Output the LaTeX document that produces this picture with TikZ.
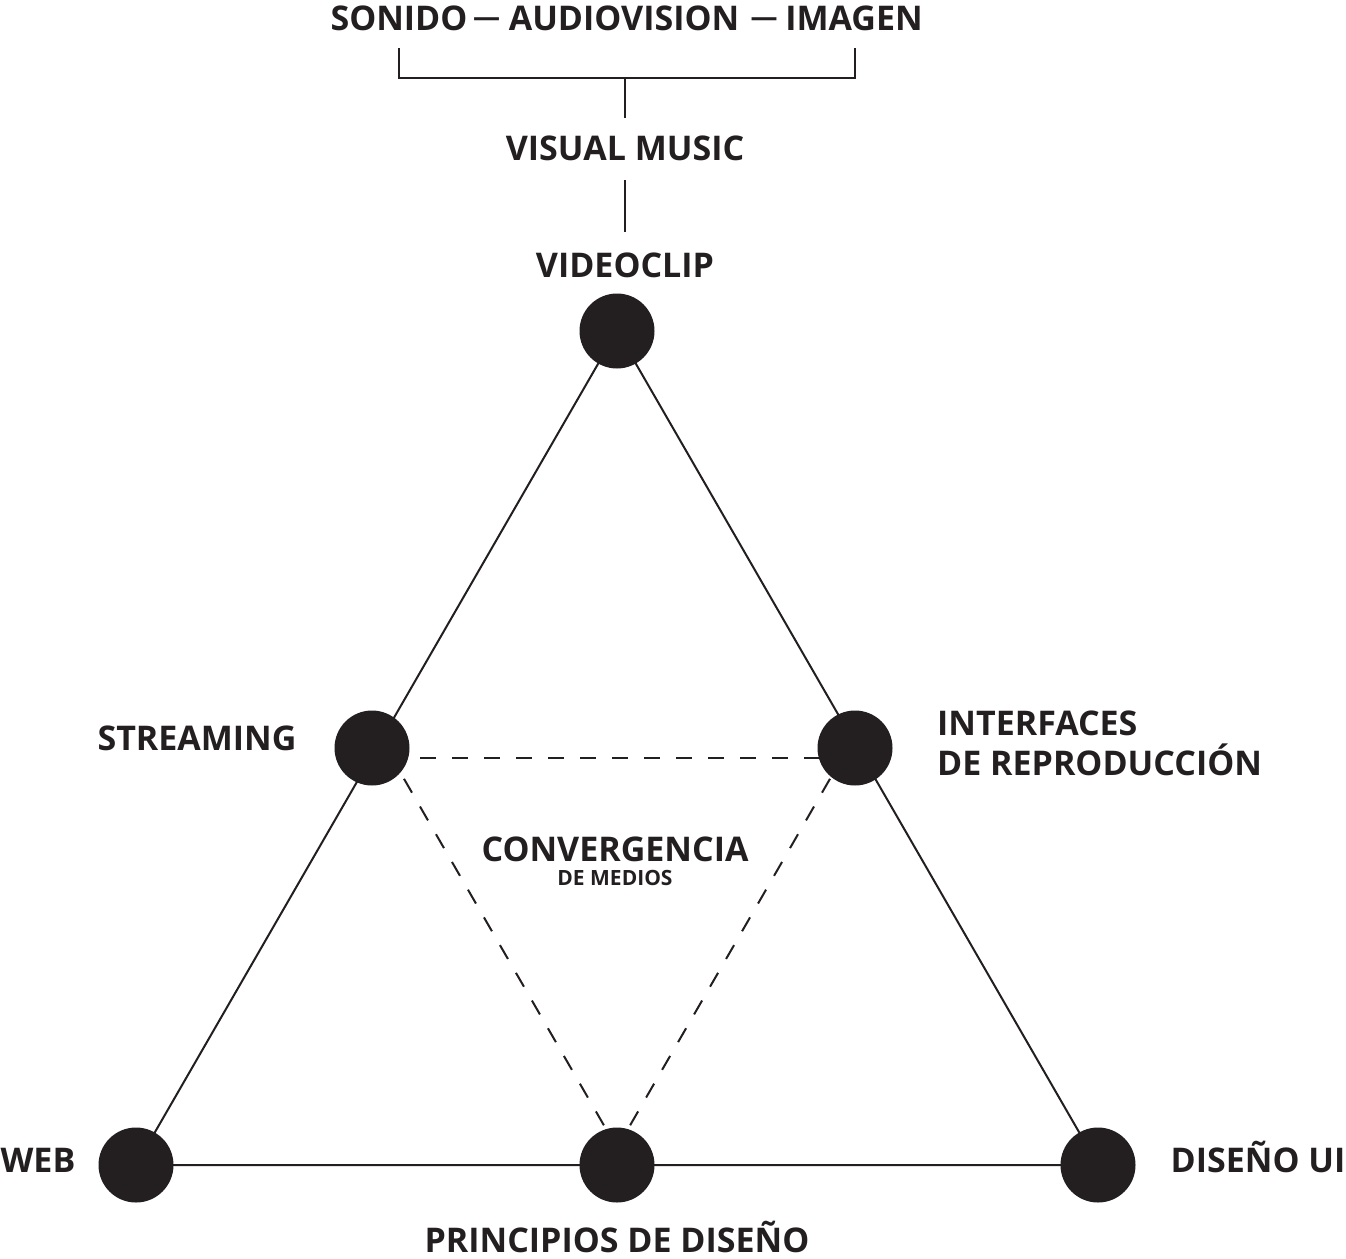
\documentclass[tikz,border=0pt]{standalone}
\usepackage{fontspec}
\setmainfont{Open Sans}[UprightFont=* Bold]
\definecolor{ink}{HTML}{231F20}
\begin{document}
\begin{tikzpicture}[x=1pt,y=-1pt,
  lbl/.style={text=ink,font=\fontsize{34}{40}\selectfont,inner sep=0pt,anchor=base},
  dashchar/.style={text=ink,font=\fontsize{27}{30}\selectfont,inner sep=0pt,anchor=base},
  small/.style={text=ink,font=\fontsize{21}{24}\selectfont,inner sep=0pt,anchor=base},
  dot/.style={circle,fill=ink,minimum size=75pt,inner sep=0pt},
  solidline/.style={draw=ink,line width=2pt},
  dashline/.style={draw=ink,line width=2pt,dash pattern=on 16pt off 16pt},
]
\useasboundingbox (0,0) rectangle (1346,1258);
% coordinates
\coordinate (pt) at (617,331);
\coordinate (ps) at (372,748);
\coordinate (pi) at (855,748);
\coordinate (pw) at (136,1165);
\coordinate (pp) at (617,1165);
\coordinate (pd) at (1098,1165);
\coordinate (da) at (392,758);
\coordinate (db) at (842,758);
\coordinate (dc) at (617,1148);
% lines
\draw[solidline] (pt) -- (pw) -- (pd) -- cycle;
\draw[dashline,dash phase=4pt] (da) -- (db);
\draw[dashline,dash phase=8pt] (da) -- (dc);
\draw[dashline,dash phase=8pt] (db) -- (dc);
% circles
\node[dot] (vc) at (pt) {};
\node[dot] (st) at (ps) {};
\node[dot] (ir) at (pi) {};
\node[dot] (wb) at (pw) {};
\node[dot] (pr) at (pp) {};
\node[dot] (du) at (pd) {};
% labels
\node[lbl] (sonido) at (399,30) {SONIDO};
\node[dashchar] (d1) at (486.5,26) {—};
\node[lbl] (audio) at (624,30) {AUDIOVISION};
\node[dashchar] (d2) at (764,26) {—};
\node[lbl] (imagen) at (854,30) {IMAGEN};
\node[lbl] (vm) at (625,160) {VISUAL MUSIC};
\node[lbl] (vclbl) at (625,277) {VIDEOCLIP};
\node[lbl] (stlbl) at (197,750) {STREAMING};
\node[lbl,anchor=base west] (irlbl1) at (937,735) {INTERFACES};
\node[lbl,anchor=base west] (irlbl2) at (937,775) {DE REPRODUCCIÓN};
\node[lbl] (conv) at (615,861) {CONVERGENCIA};
\node[small] (medios) at (615,885) {DE MEDIOS};
\node[lbl] (wblbl) at (38,1172) {WEB};
\node[lbl] (dulbl) at (1258,1172) {DISEÑO UI};
\node[lbl] (prlbl) at (617,1252) {PRINCIPIOS DE DISEÑO};
% bracket
\coordinate (bl) at (399,48);
\coordinate (br) at (855,48);
\coordinate (bm) at (625,78);
\draw[solidline] (bl) |- (bm) -| (br);
\draw[solidline] (bm) -- (625,118) coordinate (vmtop);
\draw[solidline] (625,180) coordinate (vmbot) -- (625,232);
\end{tikzpicture}
\end{document}
